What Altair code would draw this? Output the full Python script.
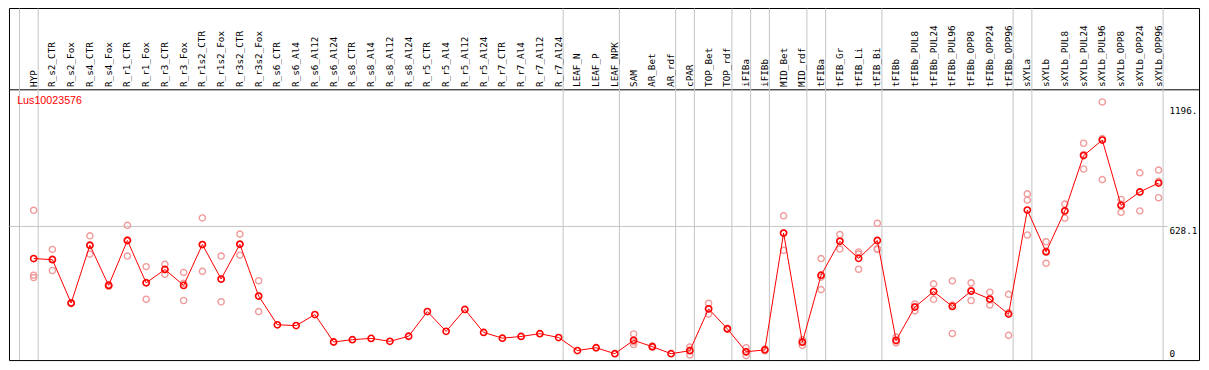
import altair as alt
import pandas as pd

# ---------------- data ----------------
categories = [
    "HYP", "R_s2_CTR", "R_s2_Fox", "R_s4_CTR", "R_s4_Fox", "R_r1_CTR", "R_r1_Fox",
    "R_r3_CTR", "R_r3_Fox", "R_r1s2_CTR", "R_r1s2_Fox", "R_r3s2_CTR", "R_r3s2_Fox",
    "R_s6_CTR", "R_s6_Al4", "R_s6_Al12", "R_s6_Al24", "R_s8_CTR", "R_s8_Al4",
    "R_s8_Al12", "R_s8_Al24", "R_r5_CTR", "R_r5_Al4", "R_r5_Al12", "R_r5_Al24",
    "R_r7_CTR", "R_r7_Al4", "R_r7_Al12", "R_r7_Al24", "LEAF_N", "LEAF_P", "LEAF_NPK",
    "SAM", "AR_Bet", "AR_rdf", "cPAR", "TOP_Bet", "TOP_rdf", "iFIBa", "iFIBb",
    "MID_Bet", "MID_rdf", "tFIBa", "tFIB_Gr", "tFIB_Li", "tFIB_Bi", "tFIBb",
    "tFIBb_PUL8", "tFIBb_PUL24", "tFIBb_PUL96", "tFIBb_OPP8", "tFIBb_OPP24",
    "tFIBb_OPP96", "sXYLa", "sXYLb", "sXYLb_PUL8", "sXYLb_PUL24", "sXYLb_PUL96",
    "sXYLb_OPP8", "sXYLb_OPP24", "sXYLb_OPP96",
]

mean_values = [
    477, 472, 268, 540, 351, 562, 363, 426, 351, 543, 381, 544, 301,
    166, 162, 214, 85, 96, 102, 88, 112, 228, 135, 238, 130,
    103, 111, 124, 106, 45, 58, 30,
    93, 63, 30, 44, 241, 147, 39, 48, 597, 84,
    399, 558, 478, 562, 93, 249, 322, 252, 324, 287, 216,
    705, 508, 701, 961, 1034, 727, 790, 832,
]

rep1 = [
    704, 520, 270, 584, 355, 633, 439, 450, 412, 668, 489, 592, 373,
    None, None, None, None, None, None, None, None, None, None, None, None,
    None, None, None, None, None, None, None,
    123, 66, None, 61, 267, 150, 58, 52, 678, 96,
    477, 590, 508, 643, 108, 264, 358, 372, 363, 319, 309,
    781, 556, 733, 1019, 1213, 755, 880, 893,
]
rep2 = [
    399, 421, 265, 498, 347, 489, 286, 403, 280, 417, 274, 493, 228,
    None, None, None, None, None, None, None, None, None, None, None, None,
    None, None, None, None, None, None, None,
    73, 60, None, 24, 216, 144, 21, 44, 516, 69,
    331, 522, 427, 523, 81, 231, 285, 125, 280, 259, 116,
    588, 455, 667, 898, 848, 694, 701, 763,
]
rep3 = [
    388, 475, 268, 538, 351, 564, 364, 425, 361, 543, 380, 547, 302,
    None, None, None, None, None, None, None, None, None, None, None, None,
    None, None, None, None, None, None, None,
    85, None, None, 46, 240, None, 38, None, 597, 87,
    390, 562, 498, 520, 90, 252, 323, 259, 329, 283, 223,
    752, 513, 703, 966, 1041, 732, 789, 840,
]

# separator lines are drawn after these categories (plus one before the first)
group_last = [
    "HYP", "R_r7_Al24", "LEAF_NPK", "AR_rdf", "cPAR", "TOP_rdf", "iFIBa", "iFIBb",
    "MID_rdf", "tFIBa", "tFIB_Bi", "tFIBb_OPP96", "sXYLa", "sXYLb_OPP96",
]

gene_title = "Lus10023576"
tick_values = [1196, 628.1, 0]
tick_labels = ["1196.", "628.1", "0"]
grid_value = 628.1

# ---------------- layout helpers (page has 8px margin) ----------------
W, H = 1193, 354
SX, SY = W / 1209.0, H / 370.0


def X(px):
    return px * SX


def Y(py):
    return py * SY


RED = "#ff0000"
PINK = "#f09a9a"
GRAY = "#c4c4c4"
MONO = "DejaVu Sans Mono"

n = len(categories)
df_main = pd.DataFrame({"idx": list(range(n)), "cat": categories, "mean": mean_values})

rows = []
for i in range(n):
    for r in (rep1[i], rep2[i], rep3[i]):
        if r is not None:
            rows.append({"idx": i, "val": r})
df_rep = pd.DataFrame(rows)

sep_idx = [-1] + [categories.index(c) for c in group_last]
df_sep = pd.DataFrame({"idx": sep_idx})

df_ticks = pd.DataFrame({"v": tick_values, "label": tick_labels})
one = pd.DataFrame({"a": [1]})

xscale = alt.Scale(domain=[0, n - 1], range=[X(26), X(1166)], zero=False, nice=False)
yscale = alt.Scale(domain=[0, 1196], range=[Y(368), Y(102)], zero=False, nice=False)

xq = alt.X("idx:Q", scale=xscale, axis=None)

# frame
frame = alt.Chart(one).mark_rect(fill="white", stroke="black", strokeWidth=1).encode(
    x=alt.value(X(1.5)), x2=alt.value(X(1207.5)),
    y=alt.value(0.5), y2=alt.value(Y(368.5)),
)
header_line = alt.Chart(one).mark_rule(color="black", strokeWidth=1).encode(
    x=alt.value(X(1.5)), x2=alt.value(X(1207.5)), y=alt.value(Y(85.5)),
)

# vertical separators
seps = alt.Chart(df_sep).mark_rule(color=GRAY, strokeWidth=1, xOffset=4.6 * SX).encode(
    x=xq, y=alt.value(0.5), y2=alt.value(Y(368)),
)

# horizontal grid line
grid = alt.Chart(pd.DataFrame({"v": [grid_value]})).mark_rule(color=GRAY, strokeWidth=1).encode(
    y=alt.Y("v:Q", scale=yscale, axis=None),
    x=alt.value(X(1.5)), x2=alt.value(X(1175)),
)

# rotated category labels
labels = alt.Chart(df_main).mark_text(
    angle=270, align="left", baseline="middle", font=MONO, fontSize=9.3, color="black"
).encode(x=xq, y=alt.value(Y(82.5)), text="cat:N")

# title
title = alt.Chart(pd.DataFrame({"t": [gene_title]})).mark_text(
    align="left", baseline="middle", font="Liberation Sans", fontSize=10.7, color=RED
).encode(x=alt.value(X(9.3)), y=alt.value(Y(97.5)), text="t:N")

# value labels at right
tick_top = alt.Chart(df_ticks[df_ticks["v"] > 0]).mark_text(
    align="left", baseline="top", font=MONO, fontSize=9.3, color="black", dy=1
).encode(y=alt.Y("v:Q", scale=yscale, axis=None), x=alt.value(X(1177)), text="label:N")
tick_zero = alt.Chart(df_ticks[df_ticks["v"] == 0]).mark_text(
    align="left", baseline="bottom", font=MONO, fontSize=9.3, color="black", dy=-1
).encode(y=alt.Y("v:Q", scale=yscale, axis=None), x=alt.value(X(1177)), text="label:N")

# replicates
reps = alt.Chart(df_rep).mark_point(
    shape="circle", filled=False, color=PINK, size=38, strokeWidth=1.4, opacity=1
).encode(x=xq, y=alt.Y("val:Q", scale=yscale, axis=None))

# mean line and points
line = alt.Chart(df_main).mark_line(color=RED, strokeWidth=1).encode(
    x=xq, y=alt.Y("mean:Q", scale=yscale, axis=None)
)
pts = alt.Chart(df_main).mark_point(
    shape="circle", filled=False, color=RED, size=38, strokeWidth=1.6, opacity=1
).encode(x=xq, y=alt.Y("mean:Q", scale=yscale, axis=None))

chart = alt.layer(
    frame, header_line, seps, grid, labels, title, tick_top, tick_zero, reps, line, pts
).properties(
    width=W, height=H, padding=0, autosize=alt.AutoSizeParams(type="none"),
    background="white",
).configure_view(stroke=None)

chart.save("out.html", embed_options={"renderer": "svg", "actions": False})
